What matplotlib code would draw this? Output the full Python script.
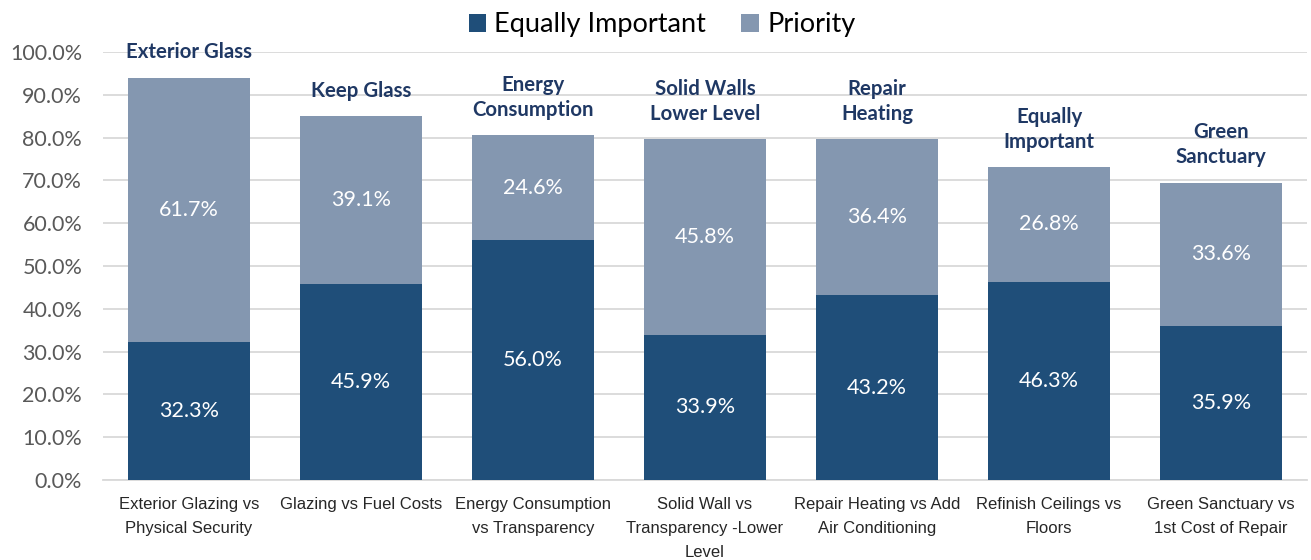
import matplotlib
matplotlib.use("Agg")
import matplotlib.pyplot as plt
import numpy as np

categories = ["Exterior Glazing vs\nPhysical Security", "Glazing vs Fuel Costs",
              "Energy Consumption\nvs Transparency", "Solid Wall vs\nTransparency -Lower\nLevel",
              "Repair Heating vs Add\nAir Conditioning", "Refinish Ceilings vs\nFloors",
              "Green Sanctuary vs\n1st Cost of Repair"]
equally_important = [32.3, 45.9, 56.0, 33.9, 43.2, 46.3, 35.9]
priority = [61.7, 39.1, 24.6, 45.8, 36.4, 26.8, 33.6]
top_labels = ["Exterior Glass", "Keep Glass", "Energy\nConsumption", "Solid Walls\nLower Level",
              "Repair\nHeating", "Equally\nImportant", "Green\nSanctuary"]
yticks = [0, 10, 20, 30, 40, 50, 60, 70, 80, 90, 100]

dark = "#1F4E79"
light = "#8497B0"
navy = "#1F3864"

fig = plt.figure(figsize=(13.11, 5.6), dpi=100)
ax = fig.add_axes([103/1311, 1 - 480/560, (1307-103)/1311, (480-52)/560])

x = np.arange(len(categories))
w = 0.715
ax.bar(x, equally_important, w, color=dark, label="Equally Important", zorder=3)
ax.bar(x, priority, w, bottom=equally_important, color=light, label="Priority", zorder=3)

for i in range(len(x)):
    e = equally_important[i]
    p = priority[i]
    ax.text(x[i], e / 2, f"{e:.1f}%", ha="center", va="center", color="white",
            fontsize=15.5, family="Lato", zorder=4)
    ax.text(x[i], e + p / 2, f"{p:.1f}%", ha="center", va="center", color="white",
            fontsize=15.5, family="Lato", zorder=4)
    ax.annotate(top_labels[i], (x[i], e + p), xytext=(0, 11), textcoords="offset points",
                ha="center", va="bottom", fontsize=14.7, fontweight="bold", color=navy,
                family="Lato", linespacing=1.3, annotation_clip=False)

ax.set_xlim(-0.5, len(x) - 0.5)
ax.set_ylim(0, 100)
ax.set_yticks(yticks)
ax.set_yticklabels([f"{v:.1f}%" for v in yticks], fontsize=15.5, family="Lato", color="#595959")
ax.set_xticks(x)
ax.set_xticklabels(categories, fontsize=12, family="Liberation Sans", color="#262626",
                   linespacing=1.75)
ax.tick_params(axis="both", length=0)
ax.tick_params(axis="x", pad=12)
ax.tick_params(axis="y", pad=15)
ax.grid(axis="y", color="#D9D9D9", linewidth=1.3, zorder=0)
for s in ["top", "right", "left"]:
    ax.spines[s].set_visible(False)
ax.spines["bottom"].set_color("#D9D9D9")
ax.spines["bottom"].set_linewidth(1.3)

leg = fig.legend(loc="upper center", bbox_to_anchor=(0.505, 1.022), ncol=2, frameon=False,
                 prop={"family": "Lato", "size": 19.5}, handlelength=0.65, handleheight=0.65,
                 handletextpad=0.3, columnspacing=1.3)

fig.savefig("out.png", dpi=100)
